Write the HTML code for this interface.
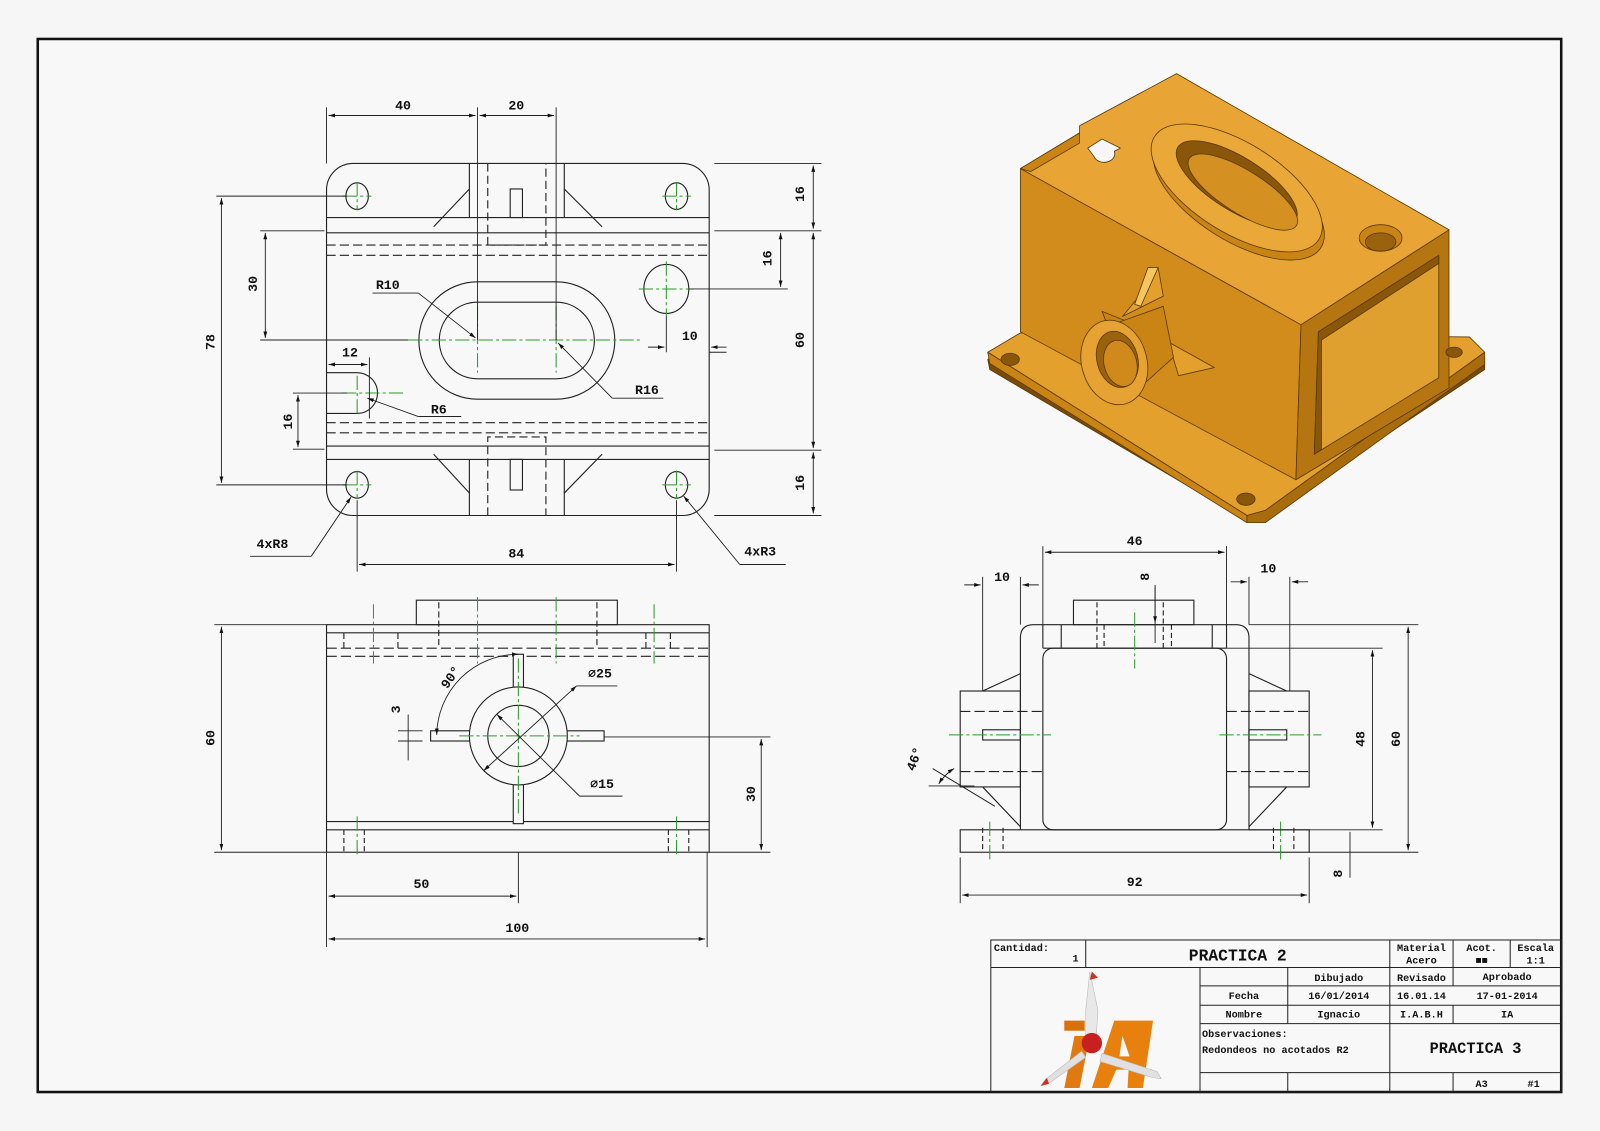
<!DOCTYPE html>
<html><head><meta charset="utf-8"><style>
html,body{margin:0;padding:0;background:#f6f6f6}
svg{display:block}
text{font-family:"Liberation Mono","Liberation Sans",monospace;font-weight:bold;fill:#111}
</style></head><body>
<svg width="1600" height="1131" viewBox="0 0 1568 1108" xmlns="http://www.w3.org/2000/svg">
<defs>
<marker id="a" viewBox="0 0 10 10" refX="10" refY="5" markerWidth="7" markerHeight="7" orient="auto-start-reverse"><path d="M0,2L10,5L0,8z" fill="#111"/></marker>
</defs>
<rect width="1568" height="1108" fill="#f6f6f6"/>
<rect x="37" y="38" width="1493" height="1032" fill="#f8f8f8" stroke="#111" stroke-width="2.5"/>

<g stroke="#222" stroke-width="1.1" fill="none">
<!-- ===== TOP VIEW ===== -->
<rect x="320" y="160" width="375" height="345" rx="26"/>
<line x1="320" y1="213" x2="695" y2="213"/><line x1="320" y1="228" x2="695" y2="228"/>
<line x1="320" y1="240" x2="695" y2="240" stroke-dasharray="9,4"/><line x1="320" y1="250" x2="695" y2="250" stroke-dasharray="9,4"/>
<line x1="320" y1="414" x2="695" y2="414" stroke-dasharray="9,4"/><line x1="320" y1="424" x2="695" y2="424" stroke-dasharray="9,4"/>
<line x1="320" y1="437" x2="695" y2="437"/><line x1="320" y1="450" x2="695" y2="450"/>
<line x1="460" y1="160" x2="460" y2="213"/><line x1="553" y1="160" x2="553" y2="213"/>
<path d="M478 160V240H535V160" stroke-dasharray="8,4"/>
<rect x="500" y="185" width="12" height="28"/>
<line x1="460" y1="185" x2="425" y2="222"/><line x1="553" y1="185" x2="590" y2="222"/>
<line x1="460" y1="450" x2="460" y2="505"/><line x1="553" y1="450" x2="553" y2="505"/>
<path d="M478 505V428H535V505" stroke-dasharray="8,4"/>
<rect x="500" y="450" width="12" height="30"/>
<line x1="425" y1="445" x2="460" y2="483"/><line x1="590" y1="445" x2="553" y2="483"/>
<ellipse cx="350" cy="192" rx="11" ry="13"/><ellipse cx="663" cy="192" rx="11" ry="13"/>
<ellipse cx="350" cy="475" rx="11" ry="13"/><ellipse cx="663" cy="475" rx="11" ry="13"/>
<ellipse cx="653" cy="283" rx="22" ry="24"/>
<path d="M468 276H545A57 57 0 0 1 545 391H468A57 57 0 0 1 468 276Z"/>
<path d="M468 296H545A37 37 0 0 1 545 371H468A37 37 0 0 1 468 296Z"/>
<path d="M320 365H350A20 20 0 0 1 350 405H320"/>
</g>
<g stroke="#2a9a2a" stroke-width="1" fill="none" stroke-dasharray="14,3,3,3">
<path d="M336 192H364M350 178V206M649 192H677M663 178V206M336 475H364M350 461V489M649 475H677M663 461V489"/>
<path d="M626 283H680M653 256V310"/>
<path d="M400 333H630M468 300V365M545 300V365"/>
<path d="M335 385H395M350 368V408"/>
</g>
<g stroke="#222" stroke-width="0.9" fill="none">
<line x1="320" y1="105" x2="320" y2="160"/><line x1="468" y1="105" x2="468" y2="333"/><line x1="545" y1="105" x2="545" y2="333"/>
<line x1="322" y1="113" x2="466" y2="113" marker-start="url(#a)" marker-end="url(#a)"/>
<line x1="470" y1="113" x2="543" y2="113" marker-start="url(#a)" marker-end="url(#a)"/>
<path d="M700 160H805M700 226H805M700 441H805M700 505H805"/>
<line x1="797" y1="162" x2="797" y2="224" marker-start="url(#a)" marker-end="url(#a)"/>
<line x1="797" y1="228" x2="797" y2="439" marker-start="url(#a)" marker-end="url(#a)"/>
<line x1="797" y1="443" x2="797" y2="503" marker-start="url(#a)" marker-end="url(#a)"/>
<path d="M675 283H772"/>
<line x1="765" y1="228" x2="765" y2="281" marker-start="url(#a)" marker-end="url(#a)"/>
<path d="M653 310V345M695 345H712"/>
<line x1="635" y1="340" x2="651" y2="340" marker-end="url(#a)"/><line x1="712" y1="340" x2="697" y2="340" marker-end="url(#a)"/>
<path d="M212 192H340M212 475H340M255 226H318M255 333H400"/>
<line x1="217" y1="194" x2="217" y2="473" marker-start="url(#a)" marker-end="url(#a)"/>
<line x1="260" y1="228" x2="260" y2="331" marker-start="url(#a)" marker-end="url(#a)"/>
<line x1="322" y1="357" x2="360" y2="357" marker-start="url(#a)" marker-end="url(#a)"/>
<path d="M362 350V410M287 385H340M287 440H318"/>
<line x1="292" y1="387" x2="292" y2="438" marker-start="url(#a)" marker-end="url(#a)"/>
<path d="M350 490V560M663 490V560"/>
<line x1="352" y1="553" x2="661" y2="553" marker-start="url(#a)" marker-end="url(#a)"/>
<path d="M245 545H305"/><line x1="305" y1="545" x2="344" y2="487" marker-end="url(#a)"/>
<path d="M725 553H770"/><line x1="725" y1="553" x2="670" y2="486" marker-end="url(#a)"/>
<path d="M365 287H410"/><line x1="410" y1="287" x2="466" y2="331" marker-end="url(#a)"/>
<path d="M600 390H650"/><line x1="600" y1="390" x2="547" y2="336" marker-end="url(#a)"/>
<path d="M410 408H452"/><line x1="410" y1="408" x2="360" y2="390" marker-end="url(#a)"/>
</g>
<g font-size="13" text-anchor="middle">
<text x="395" y="107">40</text><text x="506" y="107">20</text>
<text x="676" y="333">10</text><text x="343" y="349">12</text>
<text x="380" y="283">R10</text><text x="634" y="386">R16</text><text x="430" y="405">R6</text>
<text x="267" y="537">4xR8</text><text x="745" y="544">4xR3</text><text x="506" y="546">84</text>
<text transform="translate(788,190) rotate(-90)">16</text>
<text transform="translate(788,333) rotate(-90)">60</text>
<text transform="translate(788,473) rotate(-90)">16</text>
<text transform="translate(756,253) rotate(-90)">16</text>
<text transform="translate(210,335) rotate(-90)">78</text>
<text transform="translate(252,278) rotate(-90)">30</text>
<text transform="translate(286,413) rotate(-90)">16</text>
</g>

<!-- ===== FRONT VIEW ===== -->
<g stroke="#222" stroke-width="1.1" fill="none">
<rect x="320" y="612" width="375" height="223"/>
<rect x="408" y="588" width="197" height="24"/>
<line x1="320" y1="620" x2="695" y2="620"/>
<line x1="320" y1="635" x2="695" y2="635" stroke-dasharray="10,4"/>
<line x1="320" y1="643" x2="695" y2="643" stroke-dasharray="10,4"/>
<path d="M430 590V635M585 590V635M337 620V635M657 620V635M390 620V635M633 620V635" stroke-dasharray="6,3"/>
<line x1="320" y1="805" x2="695" y2="805"/><line x1="320" y1="813" x2="695" y2="813"/>
<path d="M337 813V835M357 813V835M655 813V835M675 813V835" stroke-dasharray="5,3"/>
<rect x="503" y="641" width="10" height="166" fill="#f8f8f8"/>
<rect x="422" y="716" width="170" height="10" fill="#f8f8f8"/>
<circle cx="508" cy="721" r="48" fill="#f8f8f8"/>
<circle cx="508" cy="721" r="30"/>
</g>
<g stroke="#2a9a2a" stroke-width="1" fill="none" stroke-dasharray="14,3,3,3">
<path d="M366 592V650M468 585V650M545 585V650M641 592V650M350 800V840M663 800V840M508 645V800M450 721H568"/>
</g>
<g stroke="#222" stroke-width="0.9" fill="none">
<path d="M210 612H320M210 835H320M592 722H755M695 835H755"/>
<line x1="217" y1="614" x2="217" y2="833" marker-start="url(#a)" marker-end="url(#a)"/>
<line x1="746" y1="724" x2="746" y2="833" marker-start="url(#a)" marker-end="url(#a)"/>
<path d="M320 835V928M693 835V928M508 835V885"/>
<line x1="322" y1="878" x2="506" y2="878" marker-start="url(#a)" marker-end="url(#a)"/>
<line x1="322" y1="920" x2="691" y2="920" marker-start="url(#a)" marker-end="url(#a)"/>
<path d="M390 716H414M390 726H414M400 700V745"/>
<path d="M508 641A80 80 0 0 0 428 720" marker-start="url(#a)" marker-end="url(#a)"/>
<path d="M565 672H605"/><line x1="565" y1="672" x2="474" y2="755" marker-start="url(#a)" marker-end="url(#a)"/>
<path d="M568 780H610"/><line x1="568" y1="780" x2="487" y2="700" marker-end="url(#a)"/>
</g>
<g font-size="13" text-anchor="middle">
<text transform="translate(210,723) rotate(-90)">60</text>
<text transform="translate(740,778) rotate(-90)">30</text>
<text transform="translate(392,695) rotate(-90)">3</text>
<text transform="translate(445,666) rotate(-55)">90°</text>
<text x="588" y="664">⌀25</text><text x="590" y="772">⌀15</text>
<text x="413" y="870">50</text><text x="507" y="913">100</text>
</g>

<!-- ===== SIDE VIEW ===== -->
<g stroke="#222" stroke-width="1.1" fill="none">
<rect x="941" y="813" width="342" height="22"/>
<path d="M1000 813V625Q1000 612 1013 612H1211Q1224 612 1224 625V813"/>
<line x1="1022" y1="635" x2="1202" y2="635"/>
<rect x="1022" y="635" width="180" height="178" rx="10"/>
<rect x="1052" y="588" width="118" height="24"/>
<path d="M1022 612V635M1202 612V635M1040 612V635M1188 612V635" />
<path d="M1075 590V635M1082 612V635M1140 590V635M1148 612V635" stroke-dasharray="5,3"/>
<rect x="941" y="677" width="59" height="94"/><rect x="1224" y="677" width="59" height="94"/>
<path d="M941 697H1022M941 756H1022M1202 697H1283M1202 756H1283" stroke-dasharray="10,4"/>
<rect x="963" y="715" width="37" height="10"/><rect x="1224" y="715" width="37" height="10"/>
<path d="M1000 660L963 677M963 771L1000 810M1224 660L1261 677M1261 771L1224 810"/>
<path d="M963 811V835M983 811V835M1248 811V835M1268 811V835" stroke-dasharray="5,3"/>
</g>
<g stroke="#2a9a2a" stroke-width="1" fill="none" stroke-dasharray="14,3,3,3">
<path d="M930 720H1030M1195 720H1295M1112 600V655M970 805V845M1255 805V845"/>
</g>
<g stroke="#222" stroke-width="0.9" fill="none">
<path d="M1022 535V612M1202 535V612"/>
<line x1="1024" y1="541" x2="1200" y2="541" marker-start="url(#a)" marker-end="url(#a)"/>
<path d="M963 565V677M1000 565V612M1224 565V612M1264 565V677"/>
<line x1="945" y1="573" x2="961" y2="573" marker-end="url(#a)"/><line x1="1018" y1="573" x2="1002" y2="573" marker-end="url(#a)"/>
<line x1="1206" y1="570" x2="1222" y2="570" marker-end="url(#a)"/><line x1="1282" y1="570" x2="1266" y2="570" marker-end="url(#a)"/>
<path d="M1132 573V630"/>
<line x1="1132" y1="575" x2="1132" y2="610" marker-end="url(#a)"/>
<path d="M1224 612H1390M1202 635H1355M1224 813H1355M1283 835H1390"/>
<line x1="1345" y1="637" x2="1345" y2="811" marker-start="url(#a)" marker-end="url(#a)"/>
<line x1="1380" y1="614" x2="1380" y2="833" marker-start="url(#a)" marker-end="url(#a)"/>
<path d="M1323 815V860"/>
<path d="M941 840V885M1283 840V885"/>
<line x1="943" y1="877" x2="1281" y2="877" marker-start="url(#a)" marker-end="url(#a)"/>
<path d="M914 753L975 790M910 770H955"/>
<path d="M935 753A45 45 0 0 0 920 768" marker-start="url(#a)" marker-end="url(#a)"/>
</g>
<g font-size="13" text-anchor="middle">
<text x="1112" y="534">46</text><text x="982" y="569">10</text><text x="1243" y="561">10</text>
<text transform="translate(1126,565) rotate(-90)">8</text>
<text transform="translate(1337,724) rotate(-90)">48</text>
<text transform="translate(1372,724) rotate(-90)">60</text>
<text transform="translate(1315,856) rotate(-90)">8</text>
<text x="1112" y="868">92</text>
<text transform="translate(900,745) rotate(-70)">46°</text>
</g>

<!-- ===== ISOMETRIC ===== -->
<g stroke="#5a3a05" stroke-width="0.8" stroke-linejoin="round">
<path d="M968 352L1000 332L1440 335L1455 350L1455 362L1240 505L1222 510L970 362Z" fill="#7a4a08"/>
<path d="M968 345L1000 326L1440 330L1455 345L1240 500L1222 505Z" fill="#E3A02C"/>
<path d="M968 345L1222 505L1222 512L970 356Z" fill="#C98414"/>
<path d="M1222 505L1240 500L1455 345L1455 357L1240 512L1222 512Z" fill="#A86C0C"/>
<path d="M1000 165L1275 318L1270 470L1000 325Z" fill="#D18C1C"/>
<path d="M1275 318L1420 225L1420 380L1270 470Z" fill="#B57612"/>
<path d="M1292 325L1410 250L1410 370L1288 445Z" fill="#E0A030"/>
<path d="M1292 325L1410 250L1410 258L1295 333L1295 440L1288 445Z" fill="#8a560a"/>
<path d="M1000 165L1058 130L1058 123L1153 72L1420 225L1275 318Z" fill="#E8A536"/>
<path d="M1000 165L1058 130L1058 140L1010 168Z" fill="#C98414"/>
<path d="M1072 153A10 8 0 0 0 1092 148L1098 145L1080 136L1066 145Z" fill="#f6f6f6"/>
<ellipse cx="1214" cy="192" rx="95" ry="44" transform="rotate(32 1214 192)" fill="#C98414"/>
<ellipse cx="1212" cy="184" rx="95" ry="44" transform="rotate(32 1212 184)" fill="#EAA838"/>
<ellipse cx="1212" cy="180" rx="68" ry="26" transform="rotate(32 1212 180)" fill="#8a560a"/>
<ellipse cx="1218" cy="188" rx="62" ry="21" transform="rotate(32 1218 188)" fill="#D49020"/>
<ellipse cx="1353" cy="233" rx="21" ry="13" fill="#C98414"/>
<ellipse cx="1353" cy="237" rx="15" ry="9" fill="#9a620c"/>
<ellipse cx="990" cy="352" rx="9" ry="6" fill="#8a560a"/>
<ellipse cx="1221" cy="489" rx="9" ry="6" fill="#8a560a"/>
<ellipse cx="1425" cy="345" rx="8" ry="5" fill="#8a560a"/>
<path d="M1100 310L1118 288L1135 262L1140 290Z" fill="#E3A02C"/>
<path d="M1125 262L1135 262L1118 300L1112 298Z" fill="#F5C660"/>
<path d="M1145 335L1190 360L1155 368Z" fill="#E3A02C"/>
<path d="M1080 305L1105 315L1090 330Z" fill="#C98414"/>
<path d="M1070 325L1140 300L1150 350L1100 395Z" fill="#C98414"/>
<ellipse cx="1092" cy="355" rx="32" ry="42" transform="rotate(-15 1092 355)" fill="#E6A232"/>
<ellipse cx="1095" cy="352" rx="20" ry="28" transform="rotate(-15 1095 352)" fill="#9a620c"/>
<ellipse cx="1098" cy="356" rx="16" ry="23" transform="rotate(-15 1098 356)" fill="#D08A1C"/>
</g>

<!-- ===== TITLE BLOCK ===== -->
<g stroke="#222" stroke-width="1" fill="none">
<rect x="971" y="921" width="559" height="149"/>
<path d="M971 948H1530M1176 966H1530M1176 985H1530M1176 1003H1530M1362 1051H1530M1176 1051H1362"/>
<path d="M1064 921V948M1362 921V1070M1424 921V966M1480 921V948M1424 985V1003M1424 1051V1070M1176 948V1070M1262 948V1003M1262 1051V1070"/>
</g>
<g font-size="10" text-anchor="middle">
<text x="1001" y="932">Cantidad:</text><text x="1054" y="942">1</text>
<text x="1213" y="941" font-size="16">PRACTICA 2</text>
<text x="1393" y="932">Material</text><text x="1393" y="944">Acero</text>
<text x="1452" y="932">Acot.</text><text x="1452" y="944">■■</text>
<text x="1505" y="932">Escala</text><text x="1505" y="944">1:1</text>
<text x="1312" y="961">Dibujado</text><text x="1393" y="961">Revisado</text><text x="1477" y="960">Aprobado</text>
<text x="1219" y="979">Fecha</text><text x="1312" y="979">16/01/2014</text><text x="1393" y="979">16.01.14</text><text x="1477" y="979">17-01-2014</text>
<text x="1219" y="997">Nombre</text><text x="1312" y="997">Ignacio</text><text x="1393" y="997">I.A.B.H</text><text x="1477" y="997">IA</text>
<text x="1178" y="1016" text-anchor="start">Observaciones:</text>
<text x="1178" y="1032" text-anchor="start">Redondeos no acotados R2</text>
<text x="1446" y="1032" font-size="15">PRACTICA 3</text>
<text x="1452" y="1065">A3</text><text x="1503" y="1065">#1</text>
</g>
<g>
<path d="M1068 952L1076 990L1074 1020L1064 1022L1064 990Z" fill="#e8e8e8" stroke="#bbb" stroke-width="0.6"/>
<path d="M1070 952L1076 958L1068 960Z" fill="#d03020"/>
<path d="M1043 1000H1063V1010H1043Z" fill="#d8700c"/>
<path d="M1053 1015L1068 1015L1058 1066L1043 1066Z" fill="#e07a10"/>
<path d="M1092 1000L1130 1000L1120 1066L1105 1066L1106 1048L1094 1048L1086 1066L1070 1066Z" fill="#e8800e"/>
<path d="M1100 1015L1107 1035L1097 1035Z" fill="#f8f8f8"/>
<circle cx="1070" cy="1022" r="10" fill="#c82020"/>
<path d="M1060 1030L1024 1058L1020 1064L1030 1060L1064 1036Z" fill="#e0e0e0" stroke="#bbb" stroke-width="0.6"/>
<path d="M1020 1064L1026 1056L1028 1062Z" fill="#d03020"/>
<path d="M1080 1032L1134 1050L1138 1057L1130 1056L1078 1040Z" fill="#e0e0e0" stroke="#bbb" stroke-width="0.6"/>
</g>
</svg>
</body></html>
